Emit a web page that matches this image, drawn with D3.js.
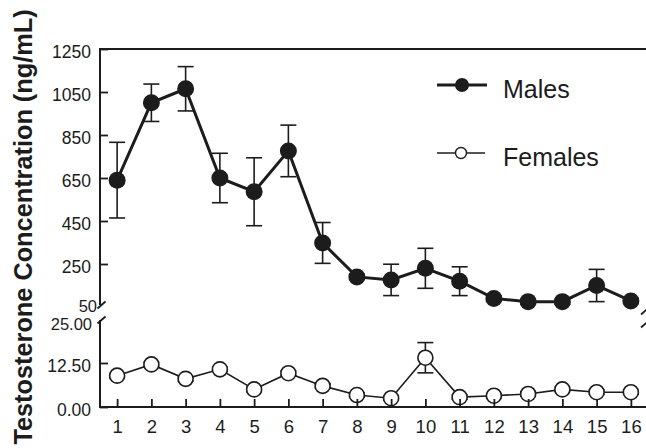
<!DOCTYPE html>
<html>
<head>
<meta charset="utf-8">
<script src="https://cdn.jsdelivr.net/npm/d3@7"></script>
<style>
  html, body { margin: 0; padding: 0; background: #fff; }
  svg { display: block; }
  text { font-family: "Liberation Sans", Arial, sans-serif; fill: #1c1c1c; }
</style>
</head>
<body>
<svg id="chart" width="646" height="448"></svg>
<script>
// Sampling days
const days = d3.range(1, 17);

// Mean testosterone (ng/mL) and standard errors
const males        = [640, 1000, 1065, 650, 586, 776, 348, 190, 176, 230, 170, 90, 75, 75, 150, 78];
const malesErr     = [176, 87, 103, 115, 158, 120, 95, 12, 73, 93, 67, 12, 12, 12, 75, 12];
const females      = [8.9, 12.1, 8.0, 10.7, 5.0, 9.6, 6.0, 3.4, 2.5, 14.0, 2.8, 3.2, 3.7, 5.0, 4.2, 4.2];
const femalesErr   = [0.6, 0.6, 0.6, 0.6, 0.6, 0.6, 0.6, 0.6, 0.6, 4.3, 0.6, 0.6, 0.6, 0.6, 0.6, 0.6];

// Axis tick values
const upperTicks = [250, 450, 650, 850, 1050, 1250];
const lowerTicks = [0, 12.5];
const breakLabels = { upper: 50, lower: 25 };

const ink = "#1c1c1c";
const svg = d3.select("#chart");

const x = d3.scaleLinear().domain([0.5, 16.5]).range([100, 648]);
const yM = d3.scaleLinear().domain([50, 1250]).range([307, 49]);
const yF = d3.scaleLinear().domain([0, 25]).range([407, 319]);

const axisX = 100, bottomY = 407, topY = 49, rightX = 650;

// Error bars (drawn beneath markers)
function errorBars(vals, errs, y, cls) {
  const g = svg.append("g").attr("class", cls)
    .attr("stroke", ink).attr("stroke-width", 1.6).attr("fill", "none");
  days.forEach((d, i) => {
    const cx = x(d), hi = y(vals[i] + errs[i]), lo = y(vals[i] - errs[i]);
    g.append("line").attr("x1", cx).attr("x2", cx).attr("y1", hi).attr("y2", lo);
    g.append("line").attr("x1", cx - 8).attr("x2", cx + 8).attr("y1", hi).attr("y2", hi);
    g.append("line").attr("x1", cx - 8).attr("x2", cx + 8).attr("y1", lo).attr("y2", lo);
  });
}
errorBars(males, malesErr, yM, "err-m");
errorBars(females, femalesErr, yF, "err-f");

// Series lines
const lineM = d3.line().x((d, i) => x(days[i])).y(d => yM(d));
const lineF = d3.line().x((d, i) => x(days[i])).y(d => yF(d));
svg.append("path").attr("d", lineM(males)).attr("fill", "none")
  .attr("stroke", ink).attr("stroke-width", 3);
svg.append("path").attr("d", lineF(females)).attr("fill", "none")
  .attr("stroke", ink).attr("stroke-width", 1.6);

// Markers
svg.append("g").selectAll("circle").data(males).join("circle")
  .attr("cx", (d, i) => x(days[i])).attr("cy", d => yM(d)).attr("r", 8.5)
  .attr("fill", ink);
svg.append("g").selectAll("circle").data(females).join("circle")
  .attr("cx", (d, i) => x(days[i])).attr("cy", d => yF(d)).attr("r", 7.5)
  .attr("fill", "#fff").attr("stroke", ink).attr("stroke-width", 1.6);

// Left axes with inward ticks
const fmt2 = d3.format(".2f");
const gUp = svg.append("g").attr("transform", `translate(${axisX},0)`)
  .call(d3.axisLeft(yM).tickValues(upperTicks).tickFormat(d3.format("d"))
    .tickSizeInner(-8).tickSizeOuter(0).tickPadding(9));
const gLo = svg.append("g").attr("transform", `translate(${axisX},0)`)
  .call(d3.axisLeft(yF).tickValues(lowerTicks).tickFormat(fmt2)
    .tickSizeInner(-8).tickSizeOuter(0).tickPadding(9));
[gUp, gLo].forEach(g => {
  g.select(".domain").remove();
  g.selectAll(".tick line").attr("stroke", ink).attr("stroke-width", 1.8);
  g.selectAll(".tick text").attr("font-size", 17.5).attr("dy", "0.5em").attr("fill", ink);
});

// Labels at the axis break
svg.append("text").attr("x", axisX - 3).attr("y", 311.5)
  .attr("text-anchor", "end").attr("font-size", 16.5).text(breakLabels.upper);
svg.append("text").attr("x", axisX - 8).attr("y", 330)
  .attr("text-anchor", "end").attr("font-size", 16.5).text(fmt2(breakLabels.lower));

// Bottom axis
const gX = svg.append("g").attr("transform", `translate(0,${bottomY})`)
  .call(d3.axisBottom(x).tickValues(days).tickFormat(d3.format("d"))
    .tickSizeInner(-8).tickSizeOuter(0).tickPadding(13));
gX.select(".domain").remove();
gX.selectAll(".tick line").attr("stroke", ink).attr("stroke-width", 1.8);
gX.selectAll(".tick text").attr("font-size", 18.5).attr("fill", ink);

// Frame lines with the broken vertical axes
const frame = svg.append("g").attr("stroke", ink).attr("stroke-width", 2).attr("fill", "none");
frame.append("line").attr("x1", axisX).attr("x2", 646).attr("y1", topY).attr("y2", topY);
frame.append("line").attr("x1", axisX).attr("x2", 646).attr("y1", bottomY).attr("y2", bottomY);
frame.append("line").attr("x1", axisX).attr("x2", axisX).attr("y1", topY - 1).attr("y2", 305);
frame.append("line").attr("x1", axisX).attr("x2", axisX).attr("y1", 320).attr("y2", bottomY + 1);
frame.append("line").attr("x1", rightX).attr("x2", rightX).attr("y1", topY - 1).attr("y2", 310);
frame.append("line").attr("x1", rightX).attr("x2", rightX).attr("y1", 324).attr("y2", bottomY + 1);
[[axisX + 1.5, 305], [axisX + 1.5, 320], [645, 311], [645, 324]].forEach(([cx, cy]) => {
  frame.append("line").attr("x1", cx - 4).attr("y1", cy + 3.5).attr("x2", cx + 4).attr("y2", cy - 3.5)
    .attr("stroke-width", 1.8);
});

// Legend
const leg = svg.append("g");
leg.append("line").attr("x1", 437).attr("x2", 487).attr("y1", 85).attr("y2", 85)
  .attr("stroke", ink).attr("stroke-width", 3);
leg.append("circle").attr("cx", 462).attr("cy", 85).attr("r", 7).attr("fill", ink);
leg.append("text").attr("x", 503).attr("y", 98).attr("font-size", 25).text("Males");
leg.append("line").attr("x1", 437).attr("x2", 485).attr("y1", 153).attr("y2", 153)
  .attr("stroke", ink).attr("stroke-width", 1.4);
leg.append("circle").attr("cx", 461).attr("cy", 153).attr("r", 5.5)
  .attr("fill", "#fff").attr("stroke", ink).attr("stroke-width", 1.4);
leg.append("text").attr("x", 503).attr("y", 166).attr("font-size", 25).text("Females");

// Y-axis title
svg.append("text").attr("transform", "translate(32,227) rotate(-90)")
  .attr("text-anchor", "middle").attr("font-size", 25.3).attr("font-weight", "bold")
  .text("Testosterone Concentration (ng/mL)");
</script>
</body>
</html>
